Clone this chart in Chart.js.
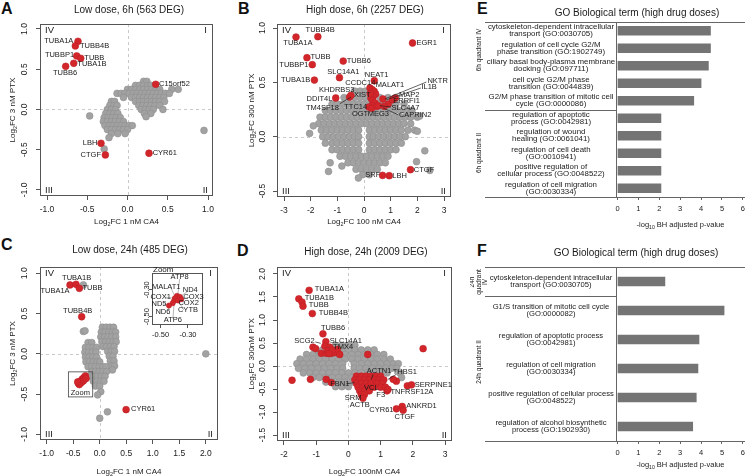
<!DOCTYPE html>
<html>
<head>
<meta charset="utf-8">
<script src="https://cdn.jsdelivr.net/npm/chart.js@4.4.0/dist/chart.umd.min.js"></script>
<style>
  body { margin: 0; background: #fff; width: 749px; height: 476px; position: relative; overflow: hidden; }
  canvas { position: absolute; }
  .letter { position: absolute; font: bold 16px "Liberation Sans", Arial, sans-serif; color: #111; line-height: 16px; }
</style>
</head>
<body>
<div class="letter" style="left:1px;top:1px">A</div>
<div class="letter" style="left:238px;top:1px">B</div>
<div class="letter" style="left:1px;top:237px">C</div>
<div class="letter" style="left:237px;top:243px">D</div>
<div class="letter" style="left:477px;top:1px">E</div>
<div class="letter" style="left:477px;top:243px">F</div>
<canvas id="chartA"></canvas>
<canvas id="chartB"></canvas>
<canvas id="chartC"></canvas>
<canvas id="chartD"></canvas>
<canvas id="chartInset"></canvas>
<canvas id="chartE"></canvas>
<canvas id="chartF"></canvas>
<script>
// ---------- data ----------

// A: low dose, 6h  (rows: [y, [x...]])
var aGreyRows = [
    [0.35, [0.20, 0.24]],
    [0.30, [0.10, 0.15, 0.20, 0.25, 0.29]],
    [0.25, [0.00, 0.05, 0.10, 0.15, 0.20, 0.25, 0.30, 0.35, 0.40, 0.55, 0.63]],
    [0.20, [-0.13, -0.08, -0.03, 0.02, 0.07, 0.12, 0.17, 0.22, 0.27, 0.32, 0.37, 0.42, 0.47, 0.52]],
    [0.15, [-0.05, 0.05, 0.10, 0.15, 0.20, 0.25, 0.30, 0.35, 0.40, 0.45]],
    [0.10, [0.10, 0.15, 0.20, 0.25, 0.30, 0.35, 0.40, 0.46]],
    [0.05, [0.14, 0.19, 0.24, 0.29, 0.34, 0.40]],
    [0.00, [0.17, 0.22, 0.27, 0.32, 0.44]],
    [-0.05, [0.21, 0.29]],
    [-0.09, [0.23]],
    [0.10, [-0.20, -0.16]],
    [0.05, [-0.22, -0.17, -0.13]],
    [0.00, [-0.25, -0.20, -0.15]],
    [-0.05, [-0.27, -0.22, -0.17, -0.12]],
    [-0.10, [-0.29, -0.24, -0.19, -0.14, -0.09]],
    [-0.15, [-0.30, -0.25, -0.20, -0.15, -0.10, -0.05]],
    [-0.20, [-0.28, -0.23, -0.18, -0.13, -0.08, -0.03, 0.02, 0.06]],
    [-0.25, [-0.25, -0.20, -0.15, -0.10, -0.05, 0.00]],
    [-0.30, [-0.20, -0.12, -0.03]],
    [-0.35, [-0.23]]
];
var aGreyOther = [[-0.47, -0.08], [0.95, -0.26], [-0.29, -0.49]];
var aRed = [[-0.615, 0.847], [-0.648, 0.789], [-0.631, 0.665], [-0.581, 0.636], [-0.668, 0.574],
    [-0.768, 0.536], [0.350, 0.313], [-0.329, -0.42], [-0.275, -0.565], [0.267, -0.544]];
var aNotes = [['TUBA1A', -0.673, 0.855, 'r'], ['TUBB4B', -0.59, 0.79, 'l'], ['TUBBP1', -0.664, 0.673, 'r'],
    ['TUBB', -0.536, 0.64, 'l'], ['TUBA1B', -0.623, 0.565, 'l'], ['TUBB6', -0.776, 0.45, 'c'],
    ['C15orf52', 0.391, 0.317, 'l'], ['LBH', -0.375, -0.42, 'r'], ['CTGF', -0.329, -0.565, 'r'],
    ['CYR61', 0.313, -0.544, 'l']];
var aXTicks = [-1, -0.5, 0, 0.5, 1];
var aYTicks = [-1, -0.5, 0, 0.5, 1];

// B: high dose, 6h
var bGreyRows = [
    [0.42, [-0.35, -0.15, 0.05]],
    [0.36, [-0.75, -0.55, -0.35, -0.15, 0.05, 0.25, 0.6, 0.9, 1.2]],
    [0.30, [-1.2, -1.0, -0.8, -0.6, -0.4, -0.2, 0.0, 0.2, 0.4, 0.6, 0.8, 1.0, 1.2, 1.5]],
    [0.24, [-1.45, -1.25, -1.05, -0.85, -0.65, -0.45, -0.25, -0.05, 0.15, 0.35, 0.55, 0.75, 0.95, 1.15, 1.35, 1.6, 1.8]],
    [0.18, [-1.65, -1.45, -1.25, -1.05, -0.85, -0.65, -0.45, -0.25, -0.05, 0.15, 0.35, 0.55, 0.75, 0.95, 1.15, 1.35, 1.55, 1.75, 2.0]],
    [0.12, [-1.7, -1.5, -1.3, -1.1, -0.9, -0.7, -0.5, -0.3, -0.1, 0.1, 0.3, 0.5, 0.7, 0.9, 1.1, 1.3, 1.5, 1.75]],
    [0.06, [-1.6, -1.4, -1.2, -1.0, -0.8, -0.6, -0.4, -0.2, 0.2, 0.4, 0.6, 0.8, 1.0, 1.2, 1.4, 1.65, 1.9]],
    [0.00, [-1.55, -1.35, -1.15, -0.95, -0.75, -0.55, -0.35, -0.2, 0.2, 0.35, 0.55, 0.75, 0.95, 1.15, 1.35, 1.55]],
    [-0.06, [-1.45, -1.2, -1.0, -0.8, -0.6, -0.4, -0.2, 0.2, 0.4, 0.6, 0.8, 1.0, 1.2, 1.4]],
    [-0.12, [-1.2, -1.0, -0.8, -0.6, -0.4, -0.2, 0.2, 0.4, 0.6, 0.8, 1.0, 1.2]],
    [-0.18, [-0.9, -0.7, -0.5, -0.3, -0.1, 0.1, 0.3, 0.5, 0.7, 0.9]],
    [-0.24, [-0.6, -0.4, -0.2, 0.0, 0.2, 0.4, 0.6, 0.8]],
    [-0.30, [-0.3, -0.1, 0.1, 0.3, 0.5]],
    [-0.35, [-0.05, 0.2]]
];
var bGreyOther = [[-2.04, 0.03], [-1.27, -0.24], [-1.33, -0.32], [-0.83, -0.27], [-0.21, -0.38],
    [1.97, -0.23], [2.28, -0.13], [2.47, -0.31], [2.09, 0.19], [-1.9, 0.1], [2.0, 0.05]];
var bRed = [[-2.55, 0.917], [-1.73, 0.92], [1.82, 0.862], [-2.14, 0.727], [-1.94, 0.663], [-0.78, 0.696],
    [-1.86, 0.521], [-0.92, 0.543], [0.386, 0.515], [-1.06, 0.356], [-0.54, 0.365], [-0.49, 0.38],
    [0.224, 0.448], [0.311, 0.433], [0.386, 0.417], [0.436, 0.393], [0.349, 0.371], [0.262, 0.353],
    [0.324, 0.331], [0.411, 0.310], [0.311, 0.285], [0.187, 0.273], [0.286, 0.261], [0.473, 0.279],
    [0.535, 0.285], [0.237, 0.396], [1.17, 0.356], [0.71, 0.347], [0.909, 0.30], [1.071, 0.34],
    [0.76, 0.279], [1.743, -0.304], [0.697, -0.356], [0.946, -0.359]];
var bNotes = [['TUBB4B', -1.644, 0.979, 'c'], ['TUBA1A', -2.478, 0.859, 'c'], ['EGR1', 1.968, 0.859, 'l'],
    ['TUBB', -2.005, 0.733, 'l'], ['TUBBP1', -2.08, 0.663, 'r'], ['TUBB6', -0.648, 0.699, 'l'],
    ['TUBA1B', -2.017, 0.521, 'r'], ['SLC14A1', -0.772, 0.595, 'c'], ['NEAT1', 0.473, 0.571, 'c'],
    ['CCDC14', -0.137, 0.494, 'c'], ['MALAT1', 0.436, 0.479, 'l'], ['NKTR', 2.379, 0.515, 'l'],
    ['IL1B', 2.154, 0.454, 'l'], ['MAP2', 1.308, 0.380, 'l'], ['ERRFI1', 1.096, 0.325, 'l'],
    ['SLC4A7', 1.034, 0.264, 'l'], ['CAPRIN2', 1.308, 0.196, 'l'], ['KHDRBS3', -1.021, 0.433, 'c'],
    ['XIST', -0.062, 0.383, 'c'], ['DDIT4L', -1.183, 0.350, 'r'], ['TM4SF18', -1.557, 0.264, 'c'],
    ['TTC14', -0.311, 0.273, 'c'], ['OGT', -0.149, 0.209, 'c'], ['MEG3', 0.535, 0.209, 'c'],
    ['CTGF', 1.868, -0.304, 'l'], ['SRF', 0.61, -0.35, 'r'], ['LBH', 1.059, -0.359, 'l']];
var bLines = [[2.34, 0.503, 0.785, 0.347], [2.13, 0.448, 0.847, 0.34], [-0.897, 0.304, -0.486, 0.365],
    [1.009, 0.273, 0.598, 0.285], [1.283, 0.202, 0.722, 0.264]];
var bXTicks = [-3, -2, -1, 0, 1, 2, 3];
var bYTicks = [-0.5, 0, 0.5, 1];

// C: low dose, 24h
var cGreyRows = [
    [0.33, [0.05, 0.12, 0.19, 0.26]],
    [0.27, [0.03, 0.10, 0.17, 0.24, 0.30]],
    [0.21, [0.02, 0.09, 0.16, 0.23, 0.30]],
    [0.15, [0.04, 0.11, 0.18, 0.25, 0.31]],
    [0.09, [0.06, 0.13, 0.20, 0.27]],
    [0.03, [0.15, 0.22, 0.28]],
    [-0.03, [0.18, 0.25]],
    [-0.09, [0.20, 0.27]],
    [-0.15, [0.22, 0.28]],
    [-0.20, [0.24]],
    [0.14, [-0.22, -0.15]],
    [0.08, [-0.27, -0.20, -0.13, -0.06]],
    [0.02, [-0.28, -0.21, -0.14, -0.07]],
    [-0.04, [-0.27, -0.20, -0.13, -0.06]],
    [-0.10, [-0.26, -0.19, -0.12, -0.05, 0.00]],
    [-0.16, [-0.22, -0.15, -0.08, -0.01, 0.06, 0.12]],
    [-0.22, [-0.15, -0.08, -0.01, 0.06, 0.13]],
    [-0.28, [-0.18, -0.11, -0.04, 0.03, 0.10]],
    [-0.34, [-0.12, -0.05, 0.02, 0.08]],
    [-0.40, [-0.08, 0.00]]
];
var cGreyOther = [[-0.308, 0.855], [-0.308, 0.278], [-0.277, 0.286], [0.02, -0.47], [-0.04, -0.51],
    [0.145, -0.72], [0.0, -0.80], [2.0, 0.0]];
var cRed = [[-0.56, 0.855], [-0.447, 0.863], [-0.384, 0.813], [-0.34, 0.46], [0.497, -0.693],
    [-0.40, -0.37], [-0.37, -0.34], [-0.33, -0.315], [-0.30, -0.295], [-0.27, -0.274], [-0.346, -0.357],
    [-0.308, -0.336], [-0.384, -0.382], [-0.258, -0.307], [-0.415, -0.349]];
var cNotes = [['TUBA1B', -0.434, 0.946, 'c'], ['TUBA1A', -0.843, 0.78, 'c'], ['TUBB', -0.327, 0.813, 'l'],
    ['TUBB4B', -0.415, 0.531, 'c'], ['CYR61', 0.591, -0.685, 'l'], ['Zoom', -0.365, -0.481, 'c']];
var cZoomBox = [-0.591, -0.224, -0.132, -0.535];
var cXTicks = [-1, -0.5, 0, 0.5, 1, 1.5, 2];
var cYTicks = [-1, -0.5, 0, 0.5, 1];

// C inset (zoom)
var iRed = [[-0.380, -0.345], [-0.359, -0.3525], [-0.395, -0.3625], [-0.402, -0.3825], [-0.373, -0.38],
    [-0.412, -0.40], [-0.439, -0.4175], [-0.349, -0.37]];
var iNotes = [['ATP8', -0.361, -0.2075, 'c'], ['MALAT1', -0.459, -0.28, 'c'], ['ND4', -0.283, -0.30, 'c'],
    ['COX1', -0.5, -0.355, 'c'], ['COX3', -0.259, -0.355, 'c'], ['ND5', -0.512, -0.4075, 'c'],
    ['COX2', -0.295, -0.40, 'c'], ['ND6', -0.483, -0.4625, 'c'], ['CYTB', -0.30, -0.4525, 'c'],
    ['ATP6', -0.41, -0.5275, 'c']];
var iLines = [[-0.361, -0.22, -0.375, -0.345], [-0.425, -0.285, -0.39, -0.36], [-0.30, -0.31, -0.355, -0.35],
    [-0.47, -0.355, -0.395, -0.3625], [-0.285, -0.355, -0.35, -0.37], [-0.48, -0.405, -0.44, -0.4175],
    [-0.32, -0.395, -0.373, -0.38], [-0.455, -0.455, -0.41, -0.40], [-0.33, -0.45, -0.37, -0.385],
    [-0.41, -0.515, -0.40, -0.385]];
var iXTicks = [-0.5, -0.3];
var iYTicks = [-0.5, -0.3];

// D: high dose, 24h
var dGreyRows = [
    [0.45, [-0.4, -0.2, 0.0, 0.2]],
    [0.35, [-1.0, -0.8, -0.6, -0.4, -0.2, 0.0, 0.2, 0.4, 0.6, 0.8]],
    [0.25, [-1.3, -1.1, -0.9, -0.7, -0.5, -0.3, -0.1, 0.1, 0.3, 0.5, 0.7, 0.9, 1.1]],
    [0.15, [-1.5, -1.3, -1.1, -0.9, -0.7, -0.5, -0.3, -0.1, 0.1, 0.3, 0.5, 0.7, 0.9, 1.1, 1.3]],
    [0.05, [-1.6, -1.4, -1.2, -1.0, -0.8, -0.6, -0.4, -0.18, 0.18, 0.4, 0.6, 0.8, 1.0, 1.2, 1.4, 1.55]],
    [-0.05, [-1.55, -1.35, -1.15, -0.95, -0.75, -0.55, -0.35, -0.18, 0.18, 0.35, 0.55, 0.75, 0.95, 1.15, 1.35, 1.5]],
    [-0.15, [-1.4, -1.2, -1.0, -0.8, -0.6, -0.4, -0.2, 0.0, 0.2, 0.4, 0.6, 0.8, 1.0, 1.2, 1.6]],
    [-0.25, [-1.1, -0.9, -0.7, -0.5, -0.3, -0.1, 0.1, 0.3, 1.65]],
    [-0.35, [-0.7, -0.5, -0.3, -0.1, 0.1]],
    [-0.45, [-0.4, -0.2, 0.0]]
];
var dRedRows = [
    [-0.22, [0.25, 0.40, 0.55, 0.70, 0.85, 1.0]],
    [-0.30, [0.20, 0.35, 0.50, 0.65, 0.80, 0.95, 1.10]],
    [-0.38, [0.25, 0.40, 0.55, 0.70, 0.90, 1.05]],
    [-0.46, [0.30, 0.45, 0.60, 0.80, 1.0, 1.15]],
    [-0.54, [0.35, 0.50, 0.65, 1.20]],
    [-0.62, [0.40, 0.50]],
    [-0.70, [0.45]]
];
var dRedOther = [[-1.22, 1.645], [-1.54, 1.46], [-1.44, 1.39], [-1.41, 1.30], [-1.12, 1.14], [-0.79, 0.70],
    [-0.70, 0.53], [-1.10, 0.41], [-1.02, 0.38], [-0.73, 0.43], [-0.58, 0.41], [-0.84, 0.275], [-0.68, 0.275],
    [-0.53, 0.275], [-0.42, 0.29], [-0.34, 0.36], [-0.27, 0.25], [-0.63, 0.33], [-0.50, 0.35], [-0.60, 0.27],
    [0.60, 0.25], [2.32, 0.377], [-1.75, -0.31], [-1.18, -0.29], [-0.69, -0.29], [-0.53, -0.36],
    [1.49, -0.33], [1.39, -0.29], [1.23, -0.51], [1.83, -0.43], [1.96, -0.41], [1.67, -0.88],
    [1.70, -0.96], [1.49, -0.93]];
var dNotes = [['TUBA1A', -1.046, 1.667, 'l'], ['TUBA1B', -1.356, 1.486, 'l'], ['TUBB', -1.232, 1.326, 'l'],
    ['TUBB4B', -0.921, 1.159, 'l'], ['TUBB6', -0.476, 0.819, 'c'], ['SCG2', -1.046, 0.536, 'r'],
    ['SLC14A1', -0.58, 0.543, 'l'], ['TMX4', -0.476, 0.42, 'l'], ['ACTN1', 0.952, -0.109, 'c'],
    ['THBS1', 1.749, -0.123, 'c'], ['FBN1', -0.269, -0.399, 'c'], ['VCL', 0.714, -0.471, 'c'],
    ['F3', 1.004, -0.638, 'c'], ['TNFRSF12A', 1.304, -0.558, 'l'], ['SERPINE1', 2.06, -0.42, 'l'],
    ['SRM', 0.145, -0.688, 'c'], ['ACTB', 0.352, -0.848, 'c'], ['ANKRD1', 1.80, -0.87, 'l'],
    ['CYR61', 1.025, -0.964, 'c'], ['CTGF', 1.749, -1.10, 'c']];
var dLines = [[-1.025, 0.522, -0.859, 0.493], [0.766, -0.181, 0.714, -0.29], [1.49, -0.18, 1.23, -0.29],
    [-0.062, -0.384, 0.197, -0.362]];
var dXTicks = [-2, -1, 0, 1, 2, 3];
var dYTicks = [-1.5, -1, -0.5, 0, 0.5, 1, 1.5, 2];

// E / F: GO terms
var eTerms = [
    ['cytoskeleton-dependent intracellular', 'transport (GO:0030705)'],
    ['regulation of cell cycle G2/M', 'phase transition (GO:1902749)'],
    ['ciliary basal body-plasma membrane', 'docking (GO:097711)'],
    ['cell cycle G2/M phase', 'transition (GO:0044839)'],
    ['G2/M phase transition of mitotic cell', 'cycle (GO:0000086)'],
    ['regulation of apoptotic', 'process (GO:0042981)'],
    ['regulation of wound', 'healing (GO:0061041)'],
    ['regulation of cell death', '(GO:0010941)'],
    ['positive regulation of', 'cellular process (GO:0048522)'],
    ['regulation of cell migration', '(GO:0030334)']
];
var eValues = [4.45, 4.45, 4.35, 4.0, 3.65, 2.08, 2.08, 2.08, 2.08, 2.08];
var fTerms = [
    ['cytoskeleton-dependent intracellular', 'transport (GO:0030705)'],
    ['G1/S transition of mitotic cell cycle', '(GO:0000082)'],
    ['regulation of apoptotic process', '(GO:0042981)'],
    ['regulation of cell migration', '(GO:0030334)'],
    ['positive regulation of cellular process', '(GO:0048522)'],
    ['regulation of alcohol biosynthetic', 'process (GO:1902930)']
];
var fValues = [2.27, 5.1, 3.9, 3.85, 3.77, 3.6];
var goTicks = [0, 1, 2, 3, 4, 5, 6];

// ---------- drawing ----------
var FONT = '"Liberation Sans", Arial, sans-serif';
var TXT = '#1a1a1a';

function font(sz, bold) {
    return (bold ? 'bold ' : '') + sz + 'px ' + FONT;
}

function rowsToPoints(rows, extra) {
    var pts = [];
    rows.forEach(function (r) {
        r[1].forEach(function (x) { pts.push({ x: x, y: r[0] }); });
    });
    (extra || []).forEach(function (q) { pts.push({ x: q[0], y: q[1] }); });
    return pts;
}

// text with a subscript part, parts = [[text, isSub], ...]
function subText(ctx, parts, x, y, size) {
    var w = 0;
    parts.forEach(function (p) {
        ctx.font = font(p[1] ? size * 0.68 : size);
        w += ctx.measureText(p[0]).width;
    });
    var sx = x - w / 2;
    ctx.textAlign = 'left';
    ctx.textBaseline = 'middle';
    parts.forEach(function (p) {
        ctx.font = font(p[1] ? size * 0.68 : size);
        ctx.fillText(p[0], sx, p[1] ? y + size * 0.3 : y);
        sx += ctx.measureText(p[0]).width;
    });
}

function placeCanvas(cv, r) {
    cv.width = r[2];
    cv.height = r[3];
    cv.style.left = r[0] + 'px';
    cv.style.top = r[1] + 'px';
    cv.style.width = r[2] + 'px';
    cv.style.height = r[3] + 'px';
}

var ALIGN = { l: 'left', r: 'right', c: 'center' };

function scatterPanel(id, p) {
    var cv = document.getElementById(id);
    placeCanvas(cv, p.canvas);
    var ox = p.canvas[0], oy = p.canvas[1];
    var padTop = p.plot[1] - oy;
    var padRight = ox + p.canvas[2] - p.plot[2];
    var yW = p.plot[0] - ox;
    var xH = oy + p.canvas[3] - p.plot[3];
    var r = p.radius || 3.4;

    var decor = {
        id: 'decor',
        beforeDatasetsDraw: function (chart) {
            var ctx = chart.ctx, a = chart.chartArea, xs = chart.scales.x, ys = chart.scales.y;
            ctx.save();
            if (p.fill) {
                ctx.fillStyle = '#fff';
                ctx.fillRect(a.left, a.top, a.right - a.left, a.bottom - a.top);
            }
            if (p.zeroLines) {
                ctx.strokeStyle = '#c9c9c9';
                ctx.setLineDash([3, 3]);
                ctx.lineWidth = 1;
                var x0 = Math.round(xs.getPixelForValue(0)) + 0.5;
                var y0 = Math.round(ys.getPixelForValue(0)) + 0.5;
                ctx.beginPath();
                ctx.moveTo(x0, a.top); ctx.lineTo(x0, a.bottom);
                ctx.moveTo(a.left, y0); ctx.lineTo(a.right, y0);
                ctx.stroke();
                ctx.setLineDash([]);
            }
            (p.greyLines || []).forEach(function (l) {
                ctx.strokeStyle = '#9a9a9a';
                ctx.lineWidth = 0.7;
                ctx.beginPath();
                ctx.moveTo(xs.getPixelForValue(l[0]), ys.getPixelForValue(l[1]));
                ctx.lineTo(xs.getPixelForValue(l[2]), ys.getPixelForValue(l[3]));
                ctx.stroke();
            });
            ctx.restore();
        },
        afterDraw: function (chart) {
            var ctx = chart.ctx, a = chart.chartArea, xs = chart.scales.x, ys = chart.scales.y;
            ctx.save();
            ctx.strokeStyle = '#555';
            ctx.lineWidth = 1;
            ctx.strokeRect(Math.round(a.left) + 0.5, Math.round(a.top) + 0.5,
                Math.round(a.right - a.left) - 1, Math.round(a.bottom - a.top) - 1);

            ctx.fillStyle = TXT;
            if (p.quadrants) {
                ctx.font = font(9.5);
                ctx.textBaseline = 'middle';
                ctx.textAlign = 'left';
                ctx.fillText('IV', a.left + 5, a.top + 6);
                ctx.fillText('III', a.left + 5, a.bottom - 6);
                ctx.textAlign = 'right';
                ctx.fillText('I', a.right - 6, a.top + 6);
                ctx.fillText('II', a.right - 5, a.bottom - 6);
            }

            // rotated y tick labels (R style)
            ctx.font = font(p.tickSize);
            ctx.textAlign = 'center';
            ctx.textBaseline = 'middle';
            p.yTicks.forEach(function (v) {
                ctx.save();
                ctx.translate(p.yTickX - ox, ys.getPixelForValue(v));
                ctx.rotate(-Math.PI / 2);
                ctx.fillText(v.toFixed(p.yDec), 0, 0);
                ctx.restore();
            });

            if (p.title) {
                ctx.font = font(10);
                ctx.textAlign = 'center';
                ctx.textBaseline = 'middle';
                ctx.fillText(p.title[0], p.title[1] - ox, p.title[2] - oy);
            }
            if (p.xTitle) {
                subText(ctx, [['Log', 0], ['2', 1], [p.xTitle, 0]], (a.left + a.right) / 2, p.xTitleY - oy, 8);
            }
            if (p.yTitle) {
                ctx.save();
                ctx.translate(p.yTitleX - ox, (a.top + a.bottom) / 2);
                ctx.rotate(-Math.PI / 2);
                subText(ctx, [['Log', 0], ['2', 1], [p.yTitle, 0]], 0, 0, 8);
                ctx.restore();
            }
            if (p.insetTitle) {
                ctx.font = font(8);
                ctx.textAlign = 'left';
                ctx.textBaseline = 'bottom';
                ctx.fillText(p.insetTitle, a.left + 1, a.top + 1);
            }

            ctx.strokeStyle = '#222';
            ctx.lineWidth = 0.7;
            (p.lines || []).forEach(function (l) {
                ctx.beginPath();
                ctx.moveTo(xs.getPixelForValue(l[0]), ys.getPixelForValue(l[1]));
                ctx.lineTo(xs.getPixelForValue(l[2]), ys.getPixelForValue(l[3]));
                ctx.stroke();
            });
            if (p.box) {
                ctx.strokeStyle = '#444';
                ctx.lineWidth = 0.8;
                var bx1 = xs.getPixelForValue(p.box[0]), by1 = ys.getPixelForValue(p.box[1]);
                var bx2 = xs.getPixelForValue(p.box[2]), by2 = ys.getPixelForValue(p.box[3]);
                ctx.strokeRect(bx1, by1, bx2 - bx1, by2 - by1);
            }

            ctx.fillStyle = TXT;
            ctx.font = font(p.noteSize || 7.5);
            ctx.textBaseline = 'middle';
            (p.notes || []).forEach(function (n) {
                ctx.textAlign = ALIGN[n[3]];
                ctx.fillText(n[0], xs.getPixelForValue(n[1]), ys.getPixelForValue(n[2]));
            });
            ctx.restore();
        }
    };

    new Chart(cv, {
        type: 'scatter',
        data: {
            datasets: [{
                data: p.red,
                order: 0,
                pointRadius: r,
                pointBackgroundColor: '#d3262b',
                pointBorderColor: '#bd2026',
                pointBorderWidth: 0.6
            }, {
                data: p.grey,
                order: 1,
                pointRadius: r,
                pointBackgroundColor: '#a2a2a2',
                pointBorderColor: '#8e8e8e',
                pointBorderWidth: 0.6
            }]
        },
        options: {
            responsive: false,
            animation: false,
            devicePixelRatio: 1,
            layout: { padding: { left: 0, top: padTop, right: padRight, bottom: 0 } },
            plugins: { legend: { display: false }, tooltip: { enabled: false } },
            scales: {
                x: {
                    type: 'linear',
                    min: p.x[0],
                    max: p.x[1],
                    afterBuildTicks: function (s) { s.ticks = p.xTicks.map(function (v) { return { value: v }; }); },
                    afterFit: function (s) { s.height = xH; },
                    ticks: {
                        font: { family: FONT, size: p.tickSize },
                        color: TXT,
                        padding: p.tickPad,
                        maxRotation: 0,
                        autoSkip: false,
                        callback: function (v) { return v.toFixed(p.xDec); }
                    },
                    grid: { drawOnChartArea: false, drawTicks: true, tickLength: p.tickLen, color: '#555' },
                    border: { display: false }
                },
                y: {
                    type: 'linear',
                    min: p.y[0],
                    max: p.y[1],
                    afterBuildTicks: function (s) { s.ticks = p.yTicks.map(function (v) { return { value: v }; }); },
                    afterFit: function (s) { s.width = yW; },
                    ticks: { display: false },
                    grid: { drawOnChartArea: false, drawTicks: true, tickLength: p.tickLen, color: '#555' },
                    border: { display: false }
                }
            }
        },
        plugins: [decor]
    });
}

function goPanel(id, p) {
    var cv = document.getElementById(id);
    placeCanvas(cv, p.canvas);
    var ox = p.canvas[0], oy = p.canvas[1];
    var padTop = p.plot[1] - oy;
    var padRight = ox + p.canvas[2] - p.plot[2];
    var yW = p.plot[0] - ox;
    var xH = oy + p.canvas[3] - p.plot[3];

    var decor = {
        id: 'goDecor',
        afterDraw: function (chart) {
            var ctx = chart.ctx, a = chart.chartArea, ys = chart.scales.y;
            var lx = p.lineLeft - ox;
            ctx.save();
            ctx.strokeStyle = '#666';
            ctx.lineWidth = 1;
            var top = Math.round(a.top) + 0.5, bot = Math.round(a.bottom) + 0.5;
            var sep = Math.round((ys.getPixelForValue(p.split - 1) + ys.getPixelForValue(p.split)) / 2) + 0.5;
            ctx.beginPath();
            ctx.moveTo(lx, top); ctx.lineTo(a.right, top);
            ctx.moveTo(lx, bot); ctx.lineTo(a.right, bot);
            ctx.moveTo(lx, sep); ctx.lineTo(a.left, sep);
            ctx.moveTo(Math.round(a.left) + 0.5, top); ctx.lineTo(Math.round(a.left) + 0.5, bot);
            ctx.stroke();

            // term labels, centred in the left column (slightly stretched like the figure)
            ctx.fillStyle = TXT;
            ctx.font = font(p.labelSize);
            ctx.textAlign = 'center';
            ctx.textBaseline = 'middle';
            p.terms.forEach(function (lines, i) {
                var cy = ys.getPixelForValue(i);
                lines.forEach(function (t, j) {
                    ctx.save();
                    ctx.translate(p.labelX - ox, cy + (j - (lines.length - 1) / 2) * p.labelLH);
                    ctx.scale(p.stretch, 1);
                    ctx.fillText(t, 0, 0);
                    ctx.restore();
                });
            });

            ctx.font = font(10);
            ctx.fillText('GO Biological term (high drug doses)', p.titleX - ox, p.titleY - oy);

            subText(ctx, [['-log', 0], ['10', 1], [' BH adjusted p-value', 0]], (a.left + a.right) / 2, p.xTitleY - oy, 7.5);

            ctx.fillStyle = TXT;
            ctx.font = font(6.5);
            ctx.textAlign = 'center';
            ctx.textBaseline = 'middle';
            p.groups.forEach(function (g) {
                ctx.save();
                ctx.translate(p.groupX - ox, g[1] - oy);
                ctx.rotate(-Math.PI / 2);
                var lines = g[0];
                lines.forEach(function (t, i) {
                    ctx.fillText(t, 0, (i - (lines.length - 1) / 2) * 6.5);
                });
                ctx.restore();
            });
            ctx.restore();
        }
    };

    new Chart(cv, {
        type: 'bar',
        data: {
            labels: p.terms,
            datasets: [{ data: p.values, backgroundColor: '#747474', barThickness: 9 }]
        },
        options: {
            indexAxis: 'y',
            responsive: false,
            animation: false,
            devicePixelRatio: 1,
            layout: { padding: { left: 0, top: padTop, right: padRight, bottom: 0 } },
            plugins: { legend: { display: false }, tooltip: { enabled: false } },
            scales: {
                x: {
                    type: 'linear',
                    min: -0.07,
                    max: 6.1,
                    afterBuildTicks: function (s) { s.ticks = goTicks.map(function (v) { return { value: v }; }); },
                    afterFit: function (s) { s.height = xH; },
                    ticks: { font: { family: FONT, size: 7.5 }, color: TXT, padding: 4, maxRotation: 0, autoSkip: false },
                    grid: { drawOnChartArea: false, drawTicks: true, tickLength: 3, color: '#666' },
                    border: { display: false }
                },
                y: {
                    type: 'category',
                    afterFit: function (s) { s.width = yW; },
                    ticks: { display: false },
                    grid: { display: false },
                    border: { display: false }
                }
            }
        },
        plugins: [decor]
    });
}

scatterPanel('chartA', {
    canvas: [0, 0, 245, 235], plot: [40, 24, 213, 196],
    x: [-1.087, 1.062], y: [-1.075, 1.062], xTicks: aXTicks, yTicks: aYTicks, xDec: 1, yDec: 1,
    tickSize: 8.5, tickPad: 5, tickLen: 4, yTickX: 25,
    grey: rowsToPoints(aGreyRows, aGreyOther), red: rowsToPoints([], aRed), notes: aNotes,
    zeroLines: true, quadrants: true,
    title: ['Low dose, 6h (563 DEG)', 129, 10], xTitle: 'FC 1 nM CA4', xTitleY: 222, yTitle: 'FC 3 nM PTX', yTitleX: 13
});

scatterPanel('chartB', {
    canvas: [245, 0, 240, 235], plot: [277, 24, 451, 197],
    x: [-3.2625, 3.2625], y: [-0.555, 1.037], xTicks: bXTicks, yTicks: bYTicks, xDec: 0, yDec: 1,
    tickSize: 8.5, tickPad: 5, tickLen: 4, yTickX: 263,
    grey: rowsToPoints(bGreyRows, bGreyOther), red: rowsToPoints([], bRed), notes: bNotes, lines: bLines,
    zeroLines: true, quadrants: true,
    title: ['High dose, 6h (2257 DEG)', 365, 10], xTitle: 'FC 100 nM CA4', xTitleY: 222, yTitle: 'FC 300 nM PTX', yTitleX: 252
});

scatterPanel('chartC', {
    canvas: [0, 235, 245, 241], plot: [40, 267, 218, 440],
    x: [-1.126, 2.23], y: [-1.07, 1.078], xTicks: cXTicks, yTicks: cYTicks, xDec: 1, yDec: 1,
    tickSize: 8.5, tickPad: 5, tickLen: 4, yTickX: 25,
    grey: rowsToPoints(cGreyRows, cGreyOther), red: rowsToPoints([], cRed), notes: cNotes, box: cZoomBox,
    zeroLines: true, quadrants: true,
    title: ['Low dose, 24h (485 DEG)', 130, 250], xTitle: 'FC 1 nM CA4', xTitleY: 472, yTitle: 'FC 3 nM PTX', yTitleX: 13
});

scatterPanel('chartD', {
    canvas: [245, 235, 240, 241], plot: [277, 267, 452, 441],
    x: [-2.217, 3.217], y: [-1.63, 2.152], xTicks: dXTicks, yTicks: dYTicks, xDec: 0, yDec: 1,
    tickSize: 8.5, tickPad: 5, tickLen: 4, yTickX: 263,
    grey: rowsToPoints(dGreyRows), red: rowsToPoints(dRedRows, dRedOther), notes: dNotes, lines: dLines,
    zeroLines: true, quadrants: true,
    title: ['High dose, 24h (2009 DEG)', 366, 252], xTitle: 'FC 100nM CA4', xTitleY: 472, yTitle: 'FC 300nM PTX', yTitleX: 252
});

scatterPanel('chartInset', {
    canvas: [118, 255, 100, 92], plot: [152, 273, 203, 325],
    x: [-0.563, -0.19], y: [-0.5625, -0.175], xTicks: iXTicks, yTicks: iYTicks, xDec: 2, yDec: 2,
    tickSize: 7.5, tickPad: 2, tickLen: 3, yTickX: 147, radius: 2.6,
    grey: [], red: rowsToPoints([], iRed), notes: iNotes, noteSize: 7.5, greyLines: iLines,
    fill: true, insetTitle: 'Zoom'
});

goPanel('chartE', {
    canvas: [470, 0, 279, 235], plot: [616, 22, 748, 197],
    terms: eTerms, values: eValues, split: 5, lineLeft: 485,
    labelX: 551, labelSize: 7.3, labelLH: 7, stretch: 1.08,
    titleX: 637, titleY: 13, xTitleY: 225, groupX: 479,
    groups: [[['6h quadrant IV'], 50], [['6h quadrant II'], 153]]
});

goPanel('chartF', {
    canvas: [470, 235, 279, 241], plot: [616, 267, 748, 441],
    terms: fTerms, values: fValues, split: 1, lineLeft: 485,
    labelX: 551, labelSize: 7.3, labelLH: 7.8, stretch: 1.05,
    titleX: 636, titleY: 253, xTitleY: 465, groupX: 479,
    groups: [[['24h', 'quadrant', 'IV'], 282], [['24h quadrant II'], 362]]
});
</script>
</body>
</html>
